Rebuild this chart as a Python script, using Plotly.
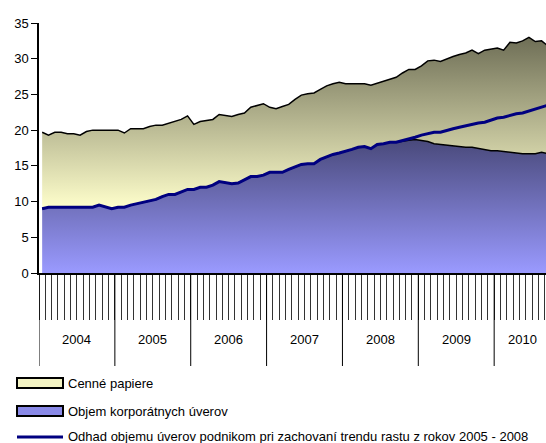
import plotly.graph_objects as go

# Monthly observations, January 2004 - September 2010 (bn EUR)
years = [2004, 2005, 2006, 2007, 2008, 2009, 2010]
months_in_year = [12, 12, 12, 12, 12, 12, 9]

loans = [
    9.0, 9.2, 9.2, 9.2, 9.2, 9.2, 9.2, 9.2, 9.2, 9.5, 9.2, 9.0,
    9.2, 9.2, 9.5, 9.7, 9.8, 10.0, 10.3, 10.7, 11.0, 11.0, 11.3, 11.7,
    11.7, 12.0, 12.0, 12.3, 12.8, 12.7, 12.5, 12.6, 13.0, 13.5, 13.5, 13.7,
    14.1, 14.1, 14.1, 14.5, 14.8, 15.2, 15.3, 15.3, 15.9, 16.3, 16.6, 16.8,
    17.0, 17.3, 17.6, 17.7, 17.4, 18.0, 18.1, 18.3, 18.3, 18.5, 18.6, 18.7,
    18.6, 18.4, 18.1, 18.0, 17.8, 17.7, 17.6, 17.6, 17.6, 17.4, 17.2, 17.1,
    17.1, 17.0, 16.8, 16.7, 16.7, 16.7, 16.7, 16.9, 16.7,
]

securities = [
    10.7, 10.1, 10.5, 10.5, 10.3, 10.3, 10.1, 10.6, 10.8, 10.5, 10.8, 11.0,
    10.8, 10.4, 10.7, 10.5, 10.4, 10.5, 10.4, 10.0, 10.0, 10.2, 10.2, 10.3,
    9.1, 9.2, 9.3, 9.2, 9.4, 9.4, 9.4, 9.6, 9.4, 9.7, 10.0, 10.0,
    9.1, 8.9, 9.2, 9.1, 9.5, 9.7, 9.8, 9.9, 9.8, 9.9, 9.9, 9.9,
    9.5, 9.2, 8.8, 8.8, 8.9, 8.6, 8.8, 8.8, 9.1, 9.5, 9.9, 9.8,
    10.4, 11.3, 11.7, 11.6, 12.2, 12.6, 13.0, 13.2, 13.6, 13.3, 14.0, 14.2,
    14.4, 14.2, 15.5, 15.5, 15.8, 16.3, 15.7, 15.6, 15.1,
]

trend = [
    9.0, 9.2, 9.2, 9.2, 9.2, 9.2, 9.2, 9.2, 9.2, 9.5, 9.2, 9.0,
    9.2, 9.2, 9.5, 9.7, 9.8, 10.0, 10.3, 10.7, 11.0, 11.0, 11.3, 11.7,
    11.7, 12.0, 12.0, 12.3, 12.8, 12.7, 12.5, 12.6, 13.0, 13.5, 13.5, 13.7,
    14.1, 14.1, 14.1, 14.5, 14.8, 15.2, 15.3, 15.3, 15.9, 16.3, 16.6, 16.8,
    17.0, 17.3, 17.6, 17.7, 17.4, 18.0, 18.1, 18.3, 18.3, 18.5, 18.8, 19.0,
    19.3, 19.5, 19.7, 19.7, 20.0, 20.2, 20.4, 20.6, 20.9, 21.0, 21.1, 21.4,
    21.7, 21.8, 22.1, 22.3, 22.4, 22.7, 23.0, 23.2, 23.5,
]

y_ticks = [0, 5, 10, 15, 20, 25, 30, 35]

series_names = [
    "Cenné papiere",
    "Objem korporátnych úverov",
    "Odhad objemu úverov podnikom pri zachovaní trendu rastu z rokov 2005 - 2008",
]

x = list(range(len(loans)))

FONT = "Liberation Sans, Arial, sans-serif"
W, H = 546, 443
ML, MR, MT, MB = 39, 0, 23, 170
PW, PH = W - ML - MR, H - MT - MB


def px(xp):
    return (xp - ML) / PW


def py(yp):
    return (H - MB - yp) / PH


fig = go.Figure()

fig.add_trace(go.Scatter(
    x=x, y=loans, stackgroup="s", mode="lines",
    line=dict(color="black", width=1.5),
    fillgradient=dict(type="vertical", start=0, stop=18.5,
                      colorscale=[[0, "#9a9aff"], [1, "#4a4a7c"]]),
    name=series_names[1], hoverinfo="skip", showlegend=False,
))
fig.add_trace(go.Scatter(
    x=x, y=securities, stackgroup="s", mode="lines",
    line=dict(color="black", width=1.5),
    fillgradient=dict(type="vertical", start=9, stop=33,
                      colorscale=[[0, "#ffffcc"], [1, "#6e6e56"]]),
    name=series_names[0], hoverinfo="skip", showlegend=False,
))
fig.add_trace(go.Scatter(
    x=x, y=trend, mode="lines",
    line=dict(color="#000080", width=3),
    name=series_names[2], hoverinfo="skip", showlegend=False,
))

# month boundaries and year separators on the category axis
boundaries = [i - 0.5 for i in range(len(loans) + 1)]
shapes = []
annotations = []
start = 0
for yr, n in zip(years, months_in_year):
    shapes.append(dict(type="line", xref="x", yref="paper",
                       x0=start - 0.5, x1=start - 0.5, y0=0, y1=py(366),
                       line=dict(color="black", width=1)))
    annotations.append(dict(x=start + (n - 1) / 2, y=py(349), xref="x", yref="paper",
                            text=str(yr), showarrow=False,
                            font=dict(family=FONT, size=13, color="black")))
    start += n

# legend drawn under the axis
legend_rows = [383, 411, 436]
fills = ["#f4f4c4", "#8a8ae8"]
for k, name in enumerate(series_names):
    yc = legend_rows[k]
    if k < 2:
        shapes.append(dict(type="rect", xref="paper", yref="paper",
                           x0=px(17), x1=px(63), y0=py(yc - 5), y1=py(yc + 5),
                           fillcolor=fills[k], line=dict(color="black", width=2)))
    else:
        shapes.append(dict(type="line", xref="paper", yref="paper",
                           x0=px(17), x1=px(63), y0=py(yc + 1), y1=py(yc + 1),
                           line=dict(color="#000080", width=3)))
    annotations.append(dict(x=px(66), y=py(yc), xref="paper", yref="paper",
                            xanchor="left", yanchor="middle", text=name,
                            showarrow=False,
                            font=dict(family=FONT, size=13, color="black")))

fig.update_layout(
    width=W, height=H,
    margin=dict(l=ML, r=MR, t=MT, b=MB),
    paper_bgcolor="white", plot_bgcolor="white",
    showlegend=False,
    shapes=shapes, annotations=annotations,
    xaxis=dict(range=[-0.5, 79.7], tickmode="array", tickvals=boundaries,
               ticks="outside", ticklen=45, tickcolor="#333", tickwidth=1,
               showticklabels=False, showgrid=False, zeroline=False,
               showline=True, linecolor="black", linewidth=1.5),
    yaxis=dict(range=[0, 35], tickmode="array", tickvals=y_ticks,
               ticks="outside", ticklen=6, tickcolor="black",
               showgrid=False, zeroline=False,
               showline=True, linecolor="black", linewidth=1.5,
               tickfont=dict(family=FONT, size=13, color="black")),
)

fig.write_html("out.html")
